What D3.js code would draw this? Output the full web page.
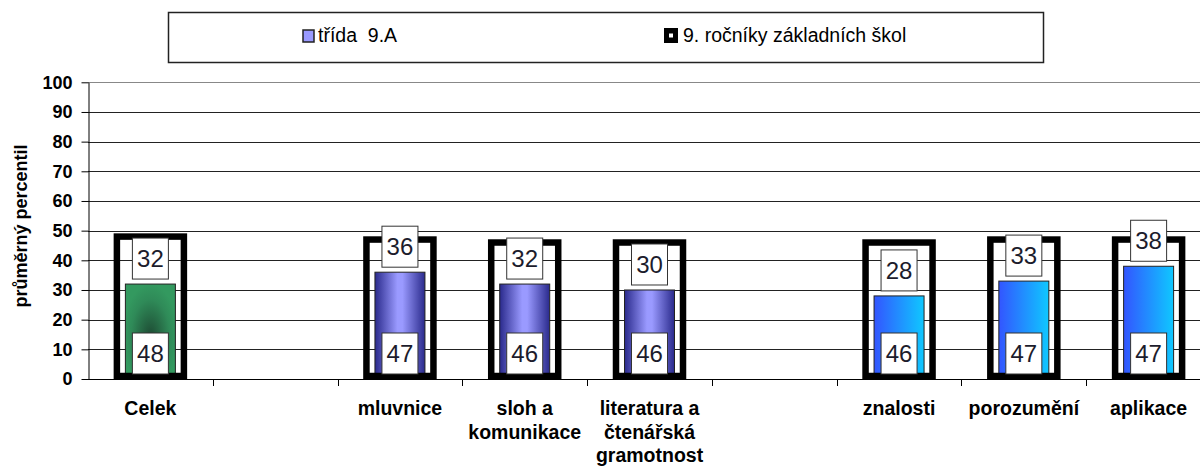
<!doctype html>
<html>
<head>
<meta charset="utf-8">
<title>průměrný percentil</title>
<style>
  body { margin: 0; background: #fff; }
  svg { display: block; font-family: "Liberation Sans", Arial, sans-serif; }
</style>
</head>
<body>
<svg id="chart" width="1200" height="470"></svg>
<script src="https://d3js.org/d3.v7.min.js"></script>
<script>
// data
var categories = [["Celek"], [], ["mluvnice"], ["sloh a", "komunikace"],
                  ["literatura a", "čtenářská", "gramotnost"], [],
                  ["znalosti"], ["porozumění"], ["aplikace"]];
var groups = ["celek", null, "jazyk", "jazyk", "jazyk", null, "komp", "komp", "komp"];
var classValues  = [32, null, 36, 32, 30, null, 28, 33, 38];
var schoolValues = [48, null, 47, 46, 46, null, 46, 47, 47];
var yTicks = [0, 10, 20, 30, 40, 50, 60, 70, 80, 90, 100];
var seriesNames = ["třída  9.A", "9. ročníky základních škol"];
var yTitle = "průměrný percentil";

var svg = d3.select("#chart");

var x = d3.scaleBand().domain(d3.range(categories.length)).range([88, 1211]);
var y = d3.scaleLinear().domain([0, 100]).range([379, 82.3]);

// gradients
var defs = svg.append("defs");
var rg = defs.append("radialGradient").attr("id", "g-celek")
  .attr("cx", "50%").attr("cy", "55%").attr("r", "55%");
rg.append("stop").attr("offset", "0%").attr("stop-color", "#1d4a33");
rg.append("stop").attr("offset", "70%").attr("stop-color", "#2f8a58");
rg.append("stop").attr("offset", "100%").attr("stop-color", "#33995f");

var lg1 = defs.append("linearGradient").attr("id", "g-jazyk");
lg1.append("stop").attr("offset", "0%").attr("stop-color", "#2a2a8c");
lg1.append("stop").attr("offset", "45%").attr("stop-color", "#9a9aff");
lg1.append("stop").attr("offset", "55%").attr("stop-color", "#9a9aff");
lg1.append("stop").attr("offset", "100%").attr("stop-color", "#2a2a8c");

var lg2 = defs.append("linearGradient").attr("id", "g-komp");
lg2.append("stop").attr("offset", "0%").attr("stop-color", "#3355ff");
lg2.append("stop").attr("offset", "100%").attr("stop-color", "#0fc8ff");

// gridlines
svg.append("g").selectAll("line").data(yTicks.filter(function(d){ return d > 0; }))
  .enter().append("line")
  .attr("x1", 88).attr("x2", 1200)
  .attr("y1", function(d){ return Math.round(y(d)) + 0.5; })
  .attr("y2", function(d){ return Math.round(y(d)) + 0.5; })
  .attr("stroke", function(d){ return d === 100 ? "#888" : "#222"; })
  .attr("stroke-width", 1);

// y axis
var yAxis = svg.append("g").attr("transform", "translate(88.5,0)")
  .call(d3.axisLeft(y).tickValues(yTicks).tickSize(7).tickSizeOuter(0));
yAxis.select(".domain").attr("stroke", "#000");
yAxis.selectAll(".tick line").attr("stroke", "#000");
yAxis.selectAll("text").attr("font-size", 18).attr("font-weight", "bold")
  .attr("fill", "#000").attr("x", -16);

svg.append("text")
  .attr("transform", "translate(27,226) rotate(-90)")
  .attr("text-anchor", "middle")
  .attr("font-size", 18).attr("font-weight", "bold")
  .text(yTitle);

// bars
var slots = svg.append("g").selectAll("g")
  .data(d3.range(categories.length).filter(function(i){ return classValues[i] != null; }))
  .enter().append("g");

slots.append("rect")
  .attr("x", function(i){ return x(i) + x.bandwidth() / 2 - 25; })
  .attr("width", 50)
  .attr("y", function(i){ return y(classValues[i]); })
  .attr("height", function(i){ return y(0) - y(classValues[i]); })
  .attr("fill", function(i){ return "url(#g-" + groups[i] + ")"; })
  .attr("stroke", "#222").attr("stroke-width", 1);

slots.append("rect")
  .attr("x", function(i){ return x(i) + x.bandwidth() / 2 - 33.5; })
  .attr("width", 67)
  .attr("y", function(i){ return y(schoolValues[i]); })
  .attr("height", function(i){ return y(0) - 3 - y(schoolValues[i]); })
  .attr("fill", "none")
  .attr("stroke", "#000").attr("stroke-width", 6.5);

// value boxes
function valueBox(sel, yTop, txt) {
  sel.append("rect")
    .attr("x", function(i){ return x(i) + x.bandwidth() / 2 - 18; })
    .attr("y", yTop).attr("width", 36).attr("height", 41)
    .attr("fill", "#fff").attr("stroke", "#333").attr("stroke-width", 1);
  sel.append("text")
    .attr("x", function(i){ return x(i) + x.bandwidth() / 2; })
    .attr("y", function(i){ return yTop(i) + 29; })
    .attr("text-anchor", "middle")
    .attr("font-size", 24).attr("fill", "#1c1c2c")
    .text(txt);
}
valueBox(slots, function(i){ return y(classValues[i]) - 46; }, function(i){ return classValues[i]; });
valueBox(slots, function(){ return 333; }, function(i){ return schoolValues[i]; });

// x axis
svg.append("line").attr("x1", 88).attr("x2", 1200)
  .attr("y1", 379.5).attr("y2", 379.5).attr("stroke", "#000");
svg.append("g").selectAll("line").data(d3.range(1, categories.length))
  .enter().append("line")
  .attr("x1", function(i){ return Math.round(x(i)) + 0.5; })
  .attr("x2", function(i){ return Math.round(x(i)) + 0.5; })
  .attr("y1", 379).attr("y2", 386).attr("stroke", "#000");

var labels = svg.append("g").selectAll("text").data(d3.range(categories.length))
  .enter().append("text")
  .attr("text-anchor", "middle")
  .attr("font-size", 19.5).attr("font-weight", "bold");
labels.selectAll("tspan").data(function(i){
    return categories[i].map(function(t){ return {i: i, t: t}; });
  })
  .enter().append("tspan")
  .attr("x", function(d){ return x(d.i) + x.bandwidth() / 2; })
  .attr("y", function(d, k){ return 415 + k * 23.5; })
  .text(function(d){ return d.t; });

// legend
var lgd = svg.append("g");
lgd.append("rect").attr("x", 168.5).attr("y", 12.5).attr("width", 875).attr("height", 50)
  .attr("fill", "#fff").attr("stroke", "#222").attr("stroke-width", 1.5);
lgd.append("rect").attr("x", 303).attr("y", 30).attr("width", 11).attr("height", 12)
  .attr("fill", "#9999ff").attr("stroke", "#222").attr("stroke-width", 1.5);
lgd.append("text").attr("x", 318).attr("y", 42).attr("font-size", 19.5)
  .style("white-space", "pre").text(seriesNames[0]);
lgd.append("rect").attr("x", 664).attr("y", 28).attr("width", 14).attr("height", 15)
  .attr("fill", "#000");
lgd.append("rect").attr("x", 669).attr("y", 33.5).attr("width", 4).attr("height", 4)
  .attr("fill", "#fff");
lgd.append("text").attr("x", 683).attr("y", 42).attr("font-size", 19.5).text(seriesNames[1]);
</script>
</body>
</html>
